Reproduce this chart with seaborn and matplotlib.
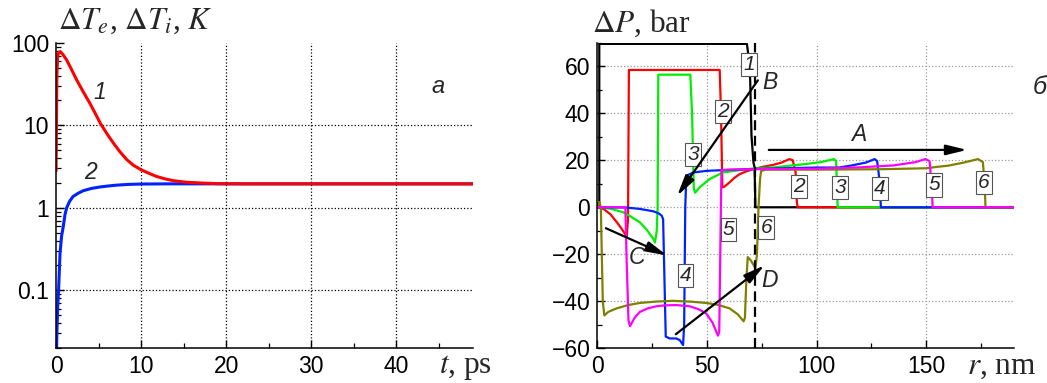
import matplotlib
matplotlib.use('Agg')
import matplotlib.pyplot as plt
import numpy as np
import pandas as pd
import seaborn as sns
from matplotlib.ticker import MultipleLocator, LogLocator, FixedLocator, FixedFormatter, NullFormatter


# panel a: electron / ion temperature rise (log scale)
t_e = [0, 0.05, 0.1, 0.2, 0.35, 0.5, 0.8, 1.25, 1.8, 2.4, 3.2, 4.0, 4.6, 5.2, 6.0, 6.75,
       7.5, 8.3, 9.1, 10.0, 10.9, 11.8, 12.8, 13.8, 15.3, 16.9, 19.0, 22.0, 49.0]
dT_e = [2.8, 8, 40, 70, 77, 78, 72.4, 61.8, 47.9, 35.9, 25.4, 18.3, 14.0, 10.6, 7.85, 6.07,
        4.79, 3.85, 3.27, 2.89, 2.62, 2.40, 2.24, 2.13, 2.04, 2.0, 1.96, 1.95, 1.95]

t_i = [0, 0.05, 0.1, 0.2, 0.3, 0.47, 0.65, 0.86, 1.05, 1.25, 1.6, 2.0, 2.6, 3.2, 4.2, 5.2,
       6.2, 7.1, 8.5, 10.0, 13.0, 49.0]
dT_i = [0.015, 0.015, 0.03, 0.065, 0.1, 0.28, 0.45, 0.6, 0.82, 1.0, 1.2, 1.37, 1.5, 1.61, 1.72,
        1.79, 1.84, 1.88, 1.92, 1.94, 1.95, 1.95]

# panel b: pressure profiles dP(r), curves 1..6
r1 = [0, 0.9, 0.9, 68.2, 69.0, 69.7, 70.3, 71.2, 71.7, 72.1, 190]
p1 = [0, 0, 69.5, 69.5, 64, 54.4, 30.4, 19, 17, 0, 0]

r2 = [0, 3, 6, 9, 11, 12.6, 13.4, 14.0, 14.4, 55.8, 56.4, 57.0, 58.0, 60.3, 62.5, 64.9, 68.0,
      71.0, 76.0, 80.0, 84.0, 87.6, 89.1, 90.4, 91.0, 91.4, 190]
p2 = [0, -0.8, -3, -6.5, -9, -11.3, -12.5, -5, 58.4, 58.4, 40, 8.5, 8.8, 10.6, 12.5, 14.1, 15.3,
      16.2, 17.3, 18.0, 19.0, 20.5, 20.0, 15, 2, 0, 0]

r3 = [0, 6, 11.8, 15, 19.4, 22.5, 25.5, 26.3, 27.1, 27.5, 27.8, 42.4, 43.2, 44.0, 44.6, 46.7,
      51.2, 57.3, 64.9, 72, 80, 95, 102, 106, 108, 108.9, 109.3, 109.6, 190]
p3 = [0, -0.6, -2.1, -3.8, -6.4, -9.5, -13.4, -15, -10, 0, 56.4, 56.4, 40, 8, 6.2, 8.5,
      12.0, 14.8, 15.8, 16.6, 16.9, 18.4, 19.2, 20.1, 20.5, 19.5, 8, 0, 0]

r4 = [0, 13, 19.4, 25.5, 28, 29.3, 30.0, 30.6, 31.2, 33, 36, 37.6, 39.1, 39.6, 40.1, 40.6,
      43.7, 50, 57.3, 72, 85, 100, 110.3, 116, 122.4, 126.5, 127.6, 128.6, 129.3, 190]
p4 = [0, -0.1, -0.7, -1.7, -2.6, -3.5, -5, -30, -55, -55.8, -55.8, -56.5, -58.6, -50, 0, 13.4,
      14.8, 15.5, 15.8, 16.3, 16.6, 16.9, 16.9, 17.8, 19.0, 20.5, 19.6, 12, 0, 0]

r5 = [0, 12.8, 13.3, 14.2, 14.9, 17, 19.4, 23, 27, 31, 36, 42.1, 46, 49.7, 52.5, 55, 55.6,
      56.2, 56.6, 60, 72, 100, 120, 135, 145, 149.7, 151.5, 152.4, 152.9, 190]
p5 = [0, 0, -20, -48, -50.6, -47, -44.5, -43, -42.1, -41.7, -41.6, -42.1, -43.3, -45.2, -49,
      -54.6, -53, -10, 15.8, 16.0, 16.2, 16.4, 17.0, 17.8, 19.2, 20.5, 19.6, 10, 0, 0]

r6 = [0, 0.4, 1.0, 1.6, 2.5, 3.2, 5, 8.8, 14, 19.4, 27, 34.5, 42, 49.7, 55, 60.3, 64, 66.7,
      67.3, 68.0, 68.6, 70.0, 71.2, 72.1, 72.8, 73.5, 74.2, 74.7, 77, 100, 130, 150, 155, 160,
      167, 173.6, 175.8, 176.6, 177.0, 190]
p6 = [0, 2.0, 2.2, 0, -40, -46, -44.5, -43, -41.6, -40.7, -40.1, -39.8, -40.1, -40.7, -41.5,
      -43, -45.5, -48.5, -47, -30, -21.2, -22.6, -24.5, -26, -20, 0, 12, 15.5, 16.0, 16.0, 16.2,
      16.6, 17.2, 17.7, 19.0, 20.5, 19.2, 10, 0, 0]

front_r = 72.1

# boxed curve numbers in panel b: (text, r, dP)
box_labels = [('1', 69.1, 60.7), ('2', 57.3, 40.9), ('3', 43.6, 22.3), ('5', 59.8, -9.6),
              ('6', 77.0, -8.5), ('4', 40.2, -28.9), ('2', 91.8, 8.8), ('3', 110.8, 8.5),
              ('4', 128.9, 8.0), ('5', 153.5, 9.5), ('6', 176.2, 10.6)]

# arrows (tail -> head) and their letters
arrows = {'A': ((78.2, 24.4), (168.6, 24.4)),
          'B': ((73.2, 54.0), (36.4, 4.9)),
          'C': ((3.9, -8.9), (31.8, -20.5)),
          'D': ((35.8, -54.0), (76.2, -24.7))}
arrow_letters = [('A', 119.4, 31.0), ('B', 78.5, 52.9), ('C', 17.9, -21.2), ('D', 78.5, -31.0)]


sns.set_theme(style='ticks')
plt.rcParams['font.family'] = ['Liberation Sans', 'DejaVu Sans']
plt.rcParams['mathtext.fontset'] = 'stix'
plt.rcParams['axes.linewidth'] = 1.1

fig = plt.figure(figsize=(10.47, 3.83), dpi=100)
ax_t = fig.add_axes([0.0535, 0.0914, 0.3983, 0.797])
ax_p = fig.add_axes([0.5705, 0.0905, 0.398, 0.798])

TICK_FS = 16.5
LBL_FS = 22.5
serif = ['Liberation Serif', 'DejaVu Serif']

for ax in (ax_t, ax_p):
    for s in ('top', 'right'):
        ax.spines[s].set_visible(False)
    for s in ('left', 'bottom'):
        ax.spines[s].set_color('black')
    ax.tick_params(which='both', direction='in', colors='black', labelsize=TICK_FS)
    ax.tick_params(which='major', length=6, width=1.0, pad=5)
    ax.tick_params(which='minor', length=3.5, width=0.9)

# ---- panel a (ions first so the electron curve lies on top)
sns.lineplot(x=t_i, y=dT_i, ax=ax_t, color='#0022ff', lw=2.2, sort=False, estimator=None)
sns.lineplot(x=t_e, y=dT_e, ax=ax_t, color='#ff0000', lw=2.2, sort=False, estimator=None)
ax_t.set_yscale('log')
ax_t.set_xlim(0, 49)
ax_t.set_ylim(0.02, 100)
ax_t.xaxis.set_major_locator(FixedLocator([0, 10, 20, 30, 40]))
ax_t.xaxis.set_minor_locator(MultipleLocator(5))
ax_t.yaxis.set_major_locator(FixedLocator([0.1, 1, 10, 100]))
ax_t.yaxis.set_major_formatter(FixedFormatter(['0.1', '1', '10', '100']))
ax_t.yaxis.set_minor_locator(LogLocator(base=10, subs=np.arange(2, 10)))
ax_t.yaxis.set_minor_formatter(NullFormatter())
for xv in (10, 20, 30, 40):
    ax_t.axvline(xv, color='black', ls=':', lw=0.9, zorder=0)
for yv in (0.1, 1, 10):
    ax_t.axhline(yv, color='black', ls=':', lw=0.9, zorder=0)
ax_t.set_xlabel('')
ax_t.set_ylabel('')
ax_t.text(5.2, 25, '1', fontsize=16.5, style='italic', ha='center', va='center')
ax_t.text(4.0, 2.65, '2', fontsize=16.5, style='italic', ha='center', va='center')
ax_t.text(0.916, 0.856, 'a', transform=ax_t.transAxes, fontsize=17, style='italic',
          ha='center', va='center')
ax_t.text(0.005, 1.045, r'$\Delta T_e$, $\Delta T_i$, $K$', transform=ax_t.transAxes,
          fontsize=LBL_FS, family=serif, ha='left', va='baseline')
ax_t.text(0.983, -0.082, r'$t$, ps', transform=ax_t.transAxes,
          fontsize=LBL_FS, family=serif, ha='center', va='baseline')

# ---- panel b
for xv in (50, 100, 150):
    ax_p.axvline(xv, color='#9a9a9a', ls=':', lw=0.9, zorder=0)
for yv in (-40, -20, 0, 20, 40, 60):
    ax_p.axhline(yv, color='#9a9a9a', ls=':', lw=0.9, zorder=0)

curves = [(r1, p1, 'black'), (r2, p2, '#ff0000'), (r3, p3, '#00ee00'),
          (r4, p4, '#0022ff'), (r6, p6, '#808000'), (r5, p5, '#ff00ff')]
for rr, pp, col in curves:
    sns.lineplot(x=rr, y=pp, ax=ax_p, color=col, lw=1.6, sort=False, estimator=None)

ax_p.axvline(front_r, color='black', lw=1.6, dashes=(4.5, 2.5), zorder=5)

ax_p.set_xlim(0, 190)
ax_p.set_ylim(-60, 70)
ax_p.xaxis.set_major_locator(FixedLocator([0, 50, 100, 150]))
ax_p.xaxis.set_minor_locator(MultipleLocator(25))
ax_p.yaxis.set_major_locator(FixedLocator([-60, -40, -20, 0, 20, 40, 60]))
ax_p.yaxis.set_minor_locator(MultipleLocator(10))
ax_p.set_xlabel('')
ax_p.set_ylabel('')

for txt, xv, yv in box_labels:
    ax_p.text(xv, yv, txt, fontsize=15, style='italic', ha='center', va='center', zorder=6,
              bbox=dict(boxstyle='square,pad=0.1', fc='white', ec='#555555', lw=0.8))

for key, (tail, head) in arrows.items():
    ax_p.annotate('', xy=head, xytext=tail, zorder=7,
                  arrowprops=dict(arrowstyle='-|>,head_length=0.9,head_width=0.22',
                                  color='black', lw=1.6, shrinkA=0, shrinkB=0,
                                  mutation_scale=14))
for txt, xv, yv in arrow_letters:
    ax_p.text(xv, yv, txt, fontsize=16.5, style='italic', ha='center', va='center')

ax_p.text(1.062, 0.856, 'б', transform=ax_p.transAxes, fontsize=18, style='italic',
          ha='center', va='center')
ax_p.text(-0.013, 1.036, r'$\Delta P$, bar', transform=ax_p.transAxes,
          fontsize=LBL_FS, family=serif, ha='left', va='baseline')
ax_p.text(0.971, -0.082, r'$r$, nm', transform=ax_p.transAxes,
          fontsize=LBL_FS, family=serif, ha='center', va='baseline')

fig.savefig('out.png', dpi=100)
plt.close(fig)
